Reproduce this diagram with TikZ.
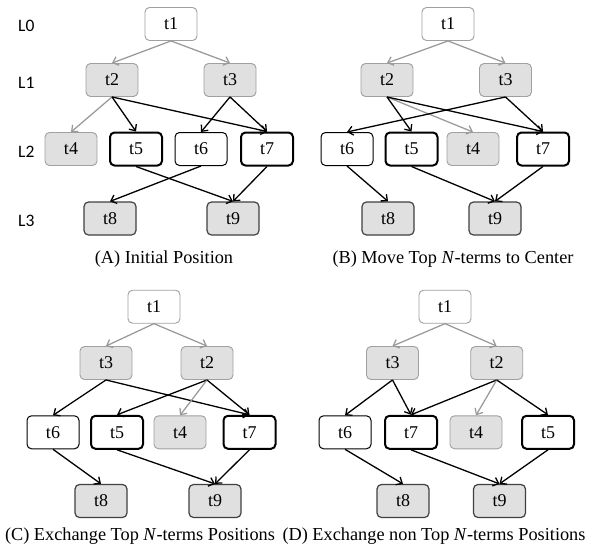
\documentclass[tikz,border=0pt]{standalone}
\usepackage{fontspec}
\setmainfont{Liberation Serif}
\newfontfamily\lvlfont{Carlito}
\usetikzlibrary{arrows.meta}
\definecolor{boxgray}{HTML}{E0E0E0}
\definecolor{edgegray}{HTML}{A0A0A0}
\definecolor{arrowgray}{HTML}{999999}
\definecolor{leafline}{HTML}{404040}
\tikzset{
  tbox/.style={rectangle, rounded corners=4.5pt, minimum width=52pt, minimum height=33pt,
    inner sep=0pt, font=\fontsize{18}{20}\selectfont},
  rootbox/.style={tbox, fill=white, draw=edgegray, line width=0.9pt},
  midbox/.style={tbox, fill=boxgray, draw=edgegray, line width=0.9pt},
  plainbox/.style={tbox, fill=white, draw=black, line width=1pt},
  topbox/.style={tbox, fill=white, draw=black, line width=2pt},
  leafbox/.style={tbox, fill=boxgray, draw=leafline, line width=1.2pt},
  lvl/.style={anchor=base west, inner sep=0pt, font=\lvlfont\fontsize{17.5}{18}\selectfont},
  captext/.style={anchor=base, inner sep=0pt, font=\fontsize{18.3}{20}\selectfont},
  dark/.style={draw=black, line width=1.3pt, -{Straight Barb[length=5pt,width=9pt]}},
  light/.style={draw=arrowgray, line width=1.25pt, -{Straight Barb[length=5pt,width=9pt]}},
}
\begin{document}
\begin{tikzpicture}[x=1pt, y=-1pt]
\useasboundingbox (0,0) rectangle (595,544);

% level labels
\node[lvl] (l0) at (18,31.5) {L0};
\node[lvl] (l1) at (18,88) {L1};
\node[lvl] (l2) at (18,157) {L2};
\node[lvl] (l3) at (18,226) {L3};

% ---- (A) initial position
\node[rootbox] (a1) at (171,24) {t1};
\node[midbox] (a2) at (112,80) {t2};
\node[midbox] (a3) at (230,80) {t3};
\node[midbox] (a4) at (71,149) {t4};
\node[topbox] (a5) at (136,149) {t5};
\node[plainbox] (a6) at (201,149) {t6};
\node[topbox] (a7) at (267,149) {t7};
\node[leafbox] (a8) at (110,218.5) {t8};
\node[leafbox] (a9) at (233,218.5) {t9};
\draw[light] (a1.south) -- (a2.north);
\draw[light] (a1.south) -- (a3.north);
\draw[light] (a2.south) -- (a4.north);
\draw[dark] (a2.south) -- (a5.north);
\draw[dark] (a2.south) -- (a7.north);
\draw[dark] (a3.south) -- (a6.north);
\draw[dark] (a3.south) -- (a7.north);
\draw[dark] (a5.south) -- (a9.north);
\draw[dark] (a6.south) -- (a8.north);
\draw[dark] (a7.south) -- (a9.north);
\node[captext] (capa) at (164,263.3) {(A) Initial Position};

% ---- (B) top N-terms moved to the center
\node[rootbox] (b1) at (448,24) {t1};
\node[midbox] (b2) at (387,80) {t2};
\node[midbox] (b3) at (505.5,80) {t3};
\node[plainbox] (b6) at (347,149) {t6};
\node[topbox] (b5) at (411.5,149) {t5};
\node[midbox] (b4) at (473,149) {t4};
\node[topbox] (b7) at (543,149) {t7};
\node[leafbox] (b8) at (388,218.5) {t8};
\node[leafbox] (b9) at (495,218.5) {t9};
\draw[light] (b1.south) -- (b2.north);
\draw[light] (b1.south) -- (b3.north);
\draw[light] (b2.south) -- (b4.north);
\draw[dark] (b2.south) -- (b5.north);
\draw[dark] (b2.south) -- (b7.north);
\draw[dark] (b3.south) -- (b6.north);
\draw[dark] (b3.south) -- (b7.north);
\draw[dark] (b6.south) -- (b8.north);
\draw[dark] (b5.south) -- (b9.north);
\draw[dark] (b7.south) -- (b9.north);
\node[captext] (capb) at (453,263.3) {(B) Move Top \textit{N}-terms to Center};

% ---- (C) top N-terms exchanged
\node[rootbox] (c1) at (154,306.7) {t1};
\node[midbox] (c3) at (106,363) {t3};
\node[midbox] (c2) at (207,363) {t2};
\node[plainbox] (c6) at (53,432.3) {t6};
\node[topbox] (c5) at (117,432.3) {t5};
\node[midbox] (c4) at (180,432.3) {t4};
\node[topbox] (c7) at (249.5,432.3) {t7};
\node[leafbox] (c8) at (101,501) {t8};
\node[leafbox] (c9) at (215,501) {t9};
\draw[light] (c1.south) -- (c3.north);
\draw[light] (c1.south) -- (c2.north);
\draw[dark] (c3.south) -- (c6.north);
\draw[dark] (c3.south) -- (c7.north);
\draw[dark] (c2.south) -- (c5.north);
\draw[light] (c2.south) -- (c4.north);
\draw[dark] (c2.south) -- (c7.north);
\draw[dark] (c6.south) -- (c8.north);
\draw[dark] (c5.south) -- (c9.north);
\draw[dark] (c7.south) -- (c9.north);
\node[captext] (capc) at (140,540) {(C) Exchange Top \textit{N}-terms Positions};

% ---- (D) non top N-terms exchanged
\node[rootbox] (d1) at (445,306.7) {t1};
\node[midbox] (d3) at (392.5,363) {t3};
\node[midbox] (d2) at (496.7,363) {t2};
\node[plainbox] (d6) at (345,432.3) {t6};
\node[topbox] (d7) at (411,432.3) {t7};
\node[midbox] (d4) at (476,432.3) {t4};
\node[topbox] (d5) at (548,432.3) {t5};
\node[leafbox] (d8) at (403,501) {t8};
\node[leafbox] (d9) at (499.5,501) {t9};
\draw[light] (d1.south) -- (d3.north);
\draw[light] (d1.south) -- (d2.north);
\draw[dark] (d3.south) -- (d6.north);
\draw[dark] (d3.south) -- (d7.north);
\draw[dark] (d2.south) -- (d7.north);
\draw[light] (d2.south) -- (d4.north);
\draw[dark] (d2.south) -- (d5.north);
\draw[dark] (d6.south) -- (d8.north);
\draw[dark] (d7.south) -- (d9.north);
\draw[dark] (d5.south) -- (d9.north);
\node[captext] (capd) at (434,540) {(D) Exchange non Top \textit{N}-terms Positions};
\end{tikzpicture}
\end{document}
